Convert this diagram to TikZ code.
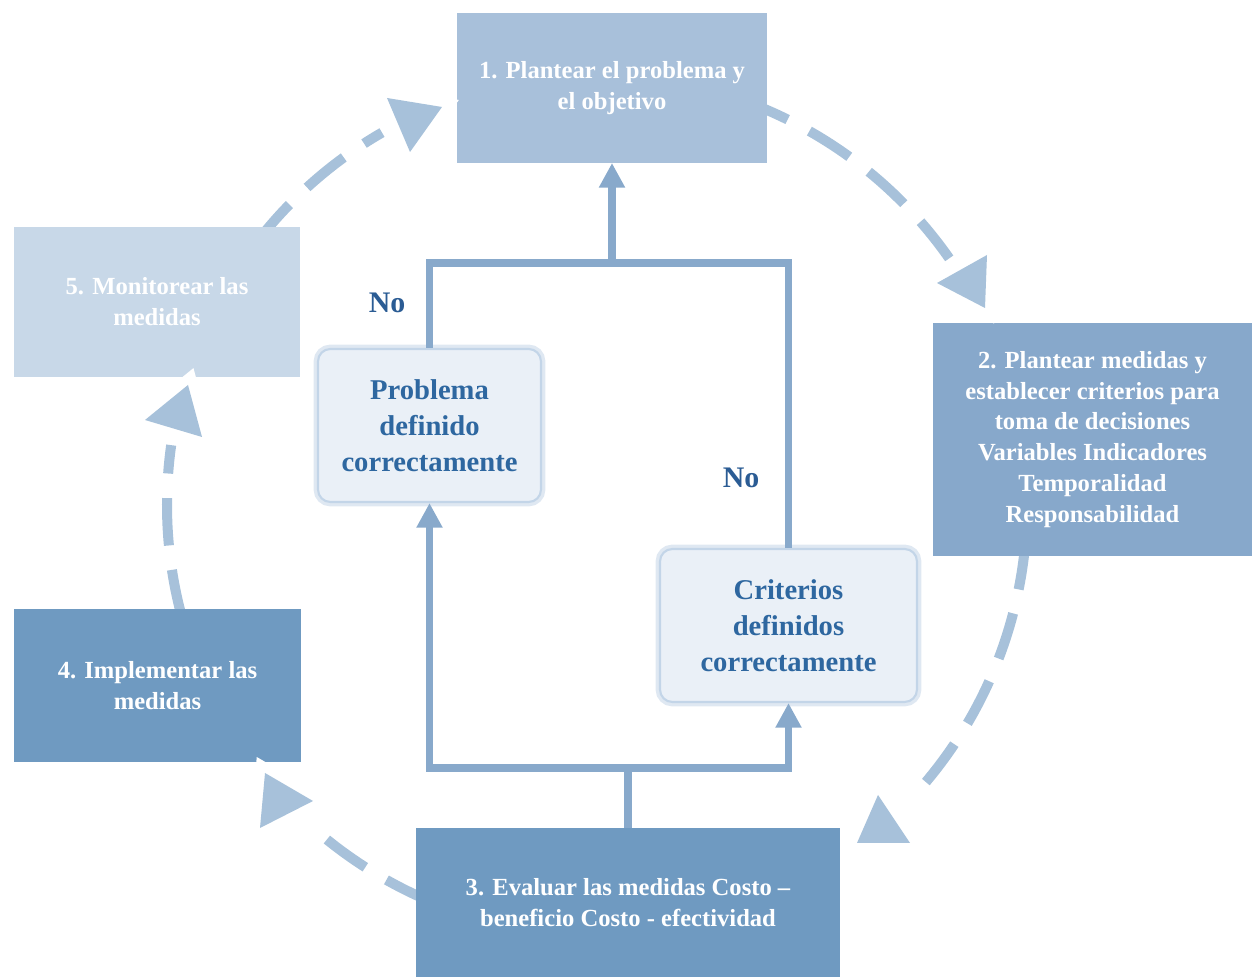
\documentclass[tikz,border=0pt]{standalone}
\usepackage{fontspec}
\setmainfont{Liberation Serif}
\usetikzlibrary{arrows.meta, positioning, calc}

\definecolor{boxOne}{HTML}{A8C0DA}
\definecolor{boxTwo}{HTML}{87A8CB}
\definecolor{boxDark}{HTML}{6F9AC1}
\definecolor{boxPale}{HTML}{C8D8E8}
\definecolor{ringBlue}{HTML}{A7C1DA}
\definecolor{linkBlue}{HTML}{88A9CB}
\definecolor{checkFill}{HTML}{EAF0F7}
\definecolor{checkEdge}{HTML}{C3D5E8}
\definecolor{checkGlow}{HTML}{DFE8F2}
\definecolor{checkText}{HTML}{2E67A0}
\definecolor{noBlue}{HTML}{2B5C94}

\begin{document}
\begin{tikzpicture}[x=0.02cm, y=0.02cm,
    stepbox/.style={rectangle, inner sep=0pt, outer sep=0pt, align=center, text=white, font=\fontsize{14}{17.6}\selectfont\bfseries},
    checkbox/.style={rectangle, rounded corners=7pt, draw=checkEdge, line width=1.2pt, fill=checkFill, preaction={draw=checkGlow, line width=5pt}, inner sep=0pt, minimum height=3.06cm, align=center, text=checkText, font=\fontsize{16.3}{20.4}\selectfont\bfseries},
    link/.style={draw=linkBlue, line width=4pt},
    linkarrow/.style={-{Triangle[length=14pt, width=14pt]}},
    ring/.style={draw=ringBlue, line width=5.7pt, dash pattern=on 27pt off 14pt},
    head/.style={preaction={draw=white, line width=11pt, line join=miter}, fill=ringBlue},
    nolabel/.style={text=noBlue, font=\fontsize{17}{20}\selectfont\bfseries}
]
\useasboundingbox (0,0) rectangle (1252,977);
\coordinate (ctr) at (597,472);

% dashed cycle
\draw[ring] ([shift={(ctr)}]70:430) arc[start angle=70, end angle=35, radius=430];
\draw[ring] ([shift={(ctr)}]-5:430) arc[start angle=-5, end angle=-43, radius=430];
\draw[ring] ([shift={(ctr)}]-113:430) arc[start angle=-113, end angle=-132, radius=430];
\draw[ring] ([shift={(ctr)}]-165:430) arc[start angle=-165, end angle=-188, radius=430];
\draw[ring] ([shift={(ctr)}]142:430) arc[start angle=142, end angle=120, radius=430];

% steps
\node[stepbox, fill=boxOne, minimum width=6.2cm, minimum height=3cm] (b1) at (612,889) {1. Plantear el problema y\\el objetivo};
\node[stepbox, fill=boxTwo, minimum width=6.38cm, minimum height=4.66cm] (b2) at (1092.5,537.5) {2. Plantear medidas y\\establecer criterios para\\toma de decisiones\\Variables Indicadores\\Temporalidad\\Responsabilidad};
\node[stepbox, fill=boxDark, minimum width=8.48cm, minimum height=2.98cm] (b3) at (628,74.5) {3. Evaluar las medidas Costo –\\beneficio Costo - efectividad};
\node[stepbox, fill=boxDark, minimum width=5.74cm, minimum height=3.06cm] (b4) at (157.5,291.5) {4. Implementar las\\medidas};
\node[stepbox, fill=boxPale, minimum width=5.72cm, minimum height=3cm] (b5) at (157,675) {5. Monitorear las\\medidas};

% arrow heads of the cycle
\fill[head] (387,879) -- (442,870) -- (410,825) -- cycle;
\fill[head] (937,694) -- (987,722) -- (985,669) -- cycle;
\fill[head] (878,182) -- (857,134) -- (910,134) -- cycle;
\fill[head] (265,204) -- (260,149) -- (313,176) -- cycle;
\fill[head] (145,557) -- (188,592) -- (202,540) -- cycle;

% checks
\node[checkbox, minimum width=4.46cm] (prob) at (429.5,551.5) {Problema\\definido\\correctamente};
\node[checkbox, minimum width=5.14cm] (crit) at (788.5,351.5) {Criterios\\definidos\\correctamente};
\node[nolabel] (no1) at (387,674) {No};
\node[nolabel] (no2) at (741,499) {No};
\coordinate (join) at (612,714);

\draw[link, linkarrow] (b3.north) -- ++(0,60) -| (prob.south);
\draw[link, linkarrow] (b3.north) -- ++(0,60) -| (crit.south);
\draw[link] (prob.north) |- (join) -| (crit.north);
\draw[link, linkarrow] (join) -- (b1.south);
\end{tikzpicture}
\end{document}
